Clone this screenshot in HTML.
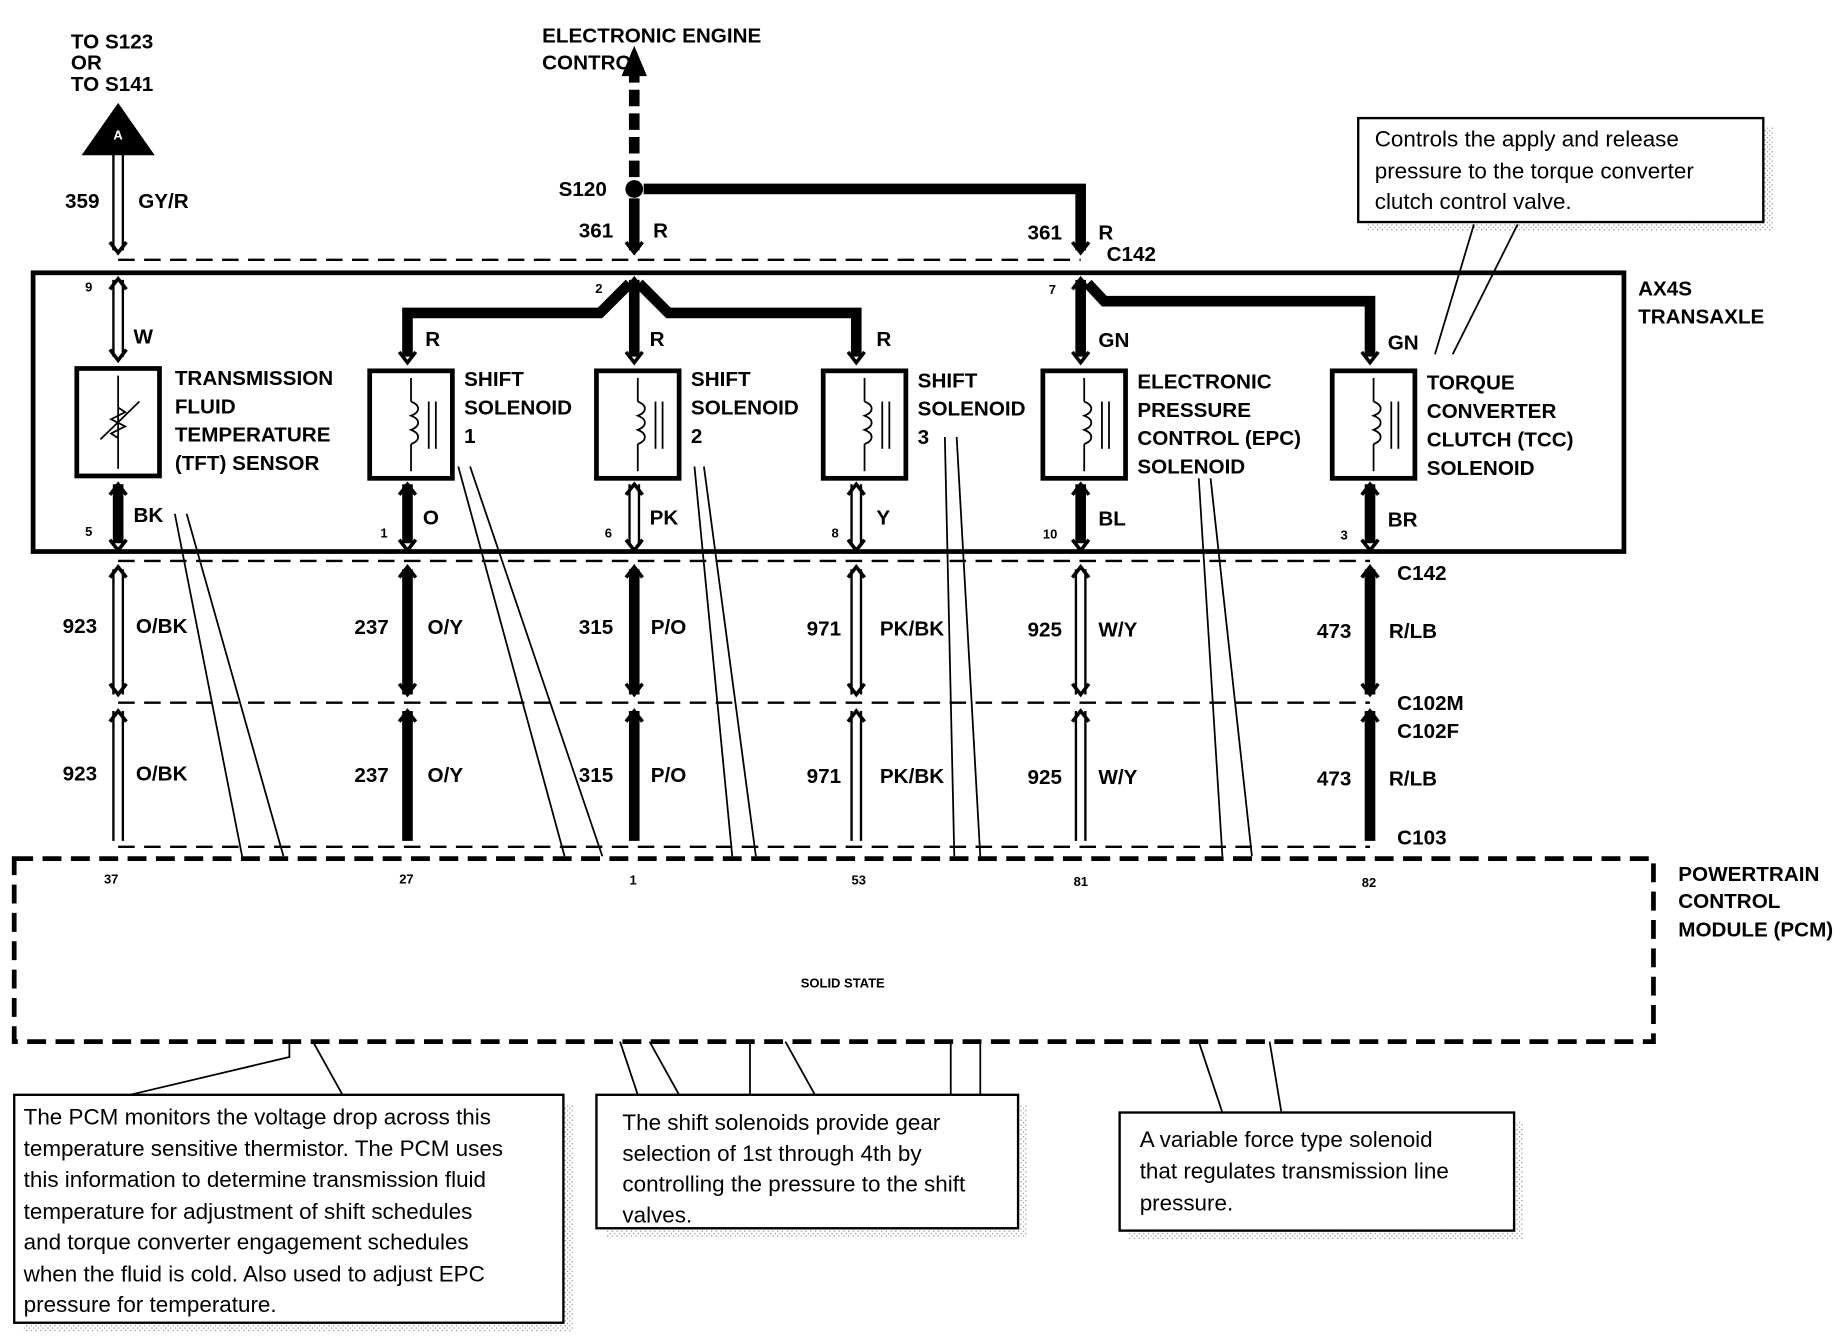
<!DOCTYPE html>
<html><head><meta charset="utf-8"><style>
html,body{margin:0;padding:0;background:#fff;}
svg{display:block}
text{font-family:"Liberation Sans",Arial,sans-serif;fill:#000}
.b{font-weight:bold;font-size:17.5px}
.p{font-weight:bold;font-size:11px}
.c{font-size:19px}
</style></head><body>
<svg width="1846" height="1344" viewBox="0 0 1563 1138" xmlns="http://www.w3.org/2000/svg">
<defs>
<pattern id="h" width="4" height="4" patternUnits="userSpaceOnUse"><rect width="4" height="4" fill="#fff"/><rect width="1" height="1" fill="#888"/><rect x="2" y="2" width="1" height="1" fill="#888"/></pattern>
<path id="dn" d="M-7,-9 L0,0 L7,-9" fill="none" stroke="#000" stroke-width="3"/>
<path id="up" d="M-7,9 L0,0 L7,9" fill="none" stroke="#000" stroke-width="3"/>
</defs>
<g stroke="#000" fill="none">
<polygon points="100,88 70,131 130,131" fill="#000"/>
<text x="96" y="118" style="fill:#fff;font-size:11px;font-weight:bold" stroke="none">A</text>
<g stroke-width="2">
<line x1="96" y1="131" x2="96" y2="212"/><line x1="104" y1="131" x2="104" y2="212"/>
<line x1="96" y1="237" x2="96" y2="302"/><line x1="104" y1="237" x2="104" y2="302"/>
<line x1="533" y1="410" x2="533" y2="460"/><line x1="541" y1="410" x2="541" y2="460"/>
<line x1="721" y1="410" x2="721" y2="460"/><line x1="729" y1="410" x2="729" y2="460"/>
</g>
<g stroke-width="2" stroke-dasharray="14,8">
<line x1="100" y1="220" x2="915" y2="220"/>
<line x1="100" y1="475" x2="1160" y2="475"/>
<line x1="100" y1="595" x2="1160" y2="595"/>
<line x1="100" y1="717" x2="1160" y2="717"/>
</g>
<rect x="28" y="231" width="1347" height="236" stroke-width="4"/>
<line x1="537" y1="150" x2="537" y2="62" stroke-width="9" stroke-dasharray="14,6"/>
<polygon points="537,40 527,64 547,64" fill="#000"/>
<circle cx="537" cy="160" r="7" fill="#000"/>
<g stroke-width="9">
<polyline points="545,160 915,160 915,212"/>
<line x1="537" y1="168" x2="537" y2="212"/>
<line x1="537" y1="237" x2="537" y2="302"/>
<polyline points="345,302 345,265 508,265 533,240"/>
<polyline points="725,302 725,265 566,265 541,240"/>
<line x1="915" y1="237" x2="915" y2="302"/>
<polyline points="921,240 935,255 1160,255 1160,302"/>
<line x1="100" y1="410" x2="100" y2="460"/>
<line x1="345" y1="410" x2="345" y2="460"/>
<line x1="915" y1="410" x2="915" y2="460"/>
<line x1="1160" y1="410" x2="1160" y2="460"/>
<line x1="345" y1="482" x2="345" y2="588"/><line x1="345" y1="602" x2="345" y2="712"/>
<line x1="537" y1="482" x2="537" y2="588"/><line x1="537" y1="602" x2="537" y2="712"/>
<line x1="1160" y1="482" x2="1160" y2="588"/><line x1="1160" y1="602" x2="1160" y2="712"/>
</g>
<g stroke-width="2">
<line x1="96" y1="482" x2="96" y2="588"/><line x1="104" y1="482" x2="104" y2="588"/>
<line x1="96" y1="602" x2="96" y2="712"/><line x1="104" y1="602" x2="104" y2="712"/>
<line x1="721" y1="482" x2="721" y2="588"/><line x1="729" y1="482" x2="729" y2="588"/>
<line x1="721" y1="602" x2="721" y2="712"/><line x1="729" y1="602" x2="729" y2="712"/>
<line x1="911" y1="482" x2="911" y2="588"/><line x1="919" y1="482" x2="919" y2="588"/>
<line x1="911" y1="602" x2="911" y2="712"/><line x1="919" y1="602" x2="919" y2="712"/>
</g>
<!-- wire end chevrons -->
<use href="#dn" x="100" y="214"/><use href="#dn" x="537" y="214"/><use href="#dn" x="915" y="214"/>
<use href="#up" x="100" y="236"/><use href="#up" x="537" y="236"/><use href="#up" x="915" y="236"/>
<use href="#dn" x="100" y="305"/><use href="#dn" x="345" y="307"/><use href="#dn" x="537" y="307"/><use href="#dn" x="725" y="307"/><use href="#dn" x="915" y="307"/><use href="#dn" x="1160" y="307"/>
<use href="#up" x="100" y="410"/><use href="#up" x="345" y="410"/><use href="#up" x="537" y="410"/><use href="#up" x="725" y="410"/><use href="#up" x="915" y="410"/><use href="#up" x="1160" y="410"/>
<g id="row">
<use href="#dn" x="100" y="466"/><use href="#dn" x="345" y="466"/><use href="#dn" x="537" y="466"/><use href="#dn" x="725" y="466"/><use href="#dn" x="915" y="466"/><use href="#dn" x="1160" y="466"/>
<use href="#up" x="100" y="480"/><use href="#up" x="345" y="480"/><use href="#up" x="537" y="480"/><use href="#up" x="725" y="480"/><use href="#up" x="915" y="480"/><use href="#up" x="1160" y="480"/>
</g>
<use href="#row" y="122"/>
<g stroke-width="4">
<rect x="65" y="312" width="70" height="91"/>
<rect x="313" y="314" width="70" height="91"/>
<rect x="505" y="314" width="70" height="91"/>
<rect x="697" y="314" width="70" height="91"/>
<rect x="883" y="314" width="70" height="91"/>
<rect x="1128" y="314" width="70" height="91"/>
</g>
<g stroke-width="1.5">
<line x1="100" y1="318" x2="100" y2="397"/><line x1="85" y1="372" x2="118" y2="340"/>
<path d="M100,345 l6,4 -12,6 12,6 -12,6 6,4"/>
<g id="sol"><line x1="348" y1="320" x2="348" y2="340"/><path d="M348,340 c8,3 8,9 0,12 c8,3 8,9 0,12 c8,3 8,9 0,12"/><line x1="348" y1="376" x2="348" y2="399"/><line x1="363" y1="340" x2="363" y2="380"/><line x1="369" y1="340" x2="369" y2="380"/></g>
<use href="#sol" x="192"/><use href="#sol" x="384"/><use href="#sol" x="570"/><use href="#sol" x="815"/>
</g>
<rect x="12" y="727" width="1388" height="155" stroke-width="4" stroke-dasharray="16,8"/>
<rect x="1158" y="108" width="343" height="88" fill="url(#h)" stroke="none"/>
<rect x="1150" y="100" width="343" height="88" fill="#fff" stroke-width="2"/>
<rect x="20" y="935" width="465" height="193" fill="url(#h)" stroke="none"/>
<rect x="12" y="927" width="465" height="193" fill="#fff" stroke-width="2"/>
<rect x="513" y="935" width="357" height="113" fill="url(#h)" stroke="none"/>
<rect x="505" y="927" width="357" height="113" fill="#fff" stroke-width="2"/>
<rect x="956" y="950" width="334" height="100" fill="url(#h)" stroke="none"/>
<rect x="948" y="942" width="334" height="100" fill="#fff" stroke-width="2"/>
<g stroke-width="1.5">
<polyline points="148,435 205,725"/><polyline points="158,435 240,725"/>
<polyline points="388,395 478,725"/><polyline points="398,395 510,725"/>
<polyline points="588,395 620,725"/><polyline points="596,395 640,725"/>
<polyline points="800,370 808,725"/><polyline points="810,370 830,725"/>
<polyline points="1015,405 1035,725"/><polyline points="1025,405 1060,725"/>
<polyline points="1248,190 1215,300"/><polyline points="1285,190 1230,300"/>
<polyline points="245,882 245,895 110,927"/><polyline points="265,882 290,927"/>
<polyline points="525,882 540,927"/><polyline points="550,882 575,927"/><polyline points="635,882 635,927"/><polyline points="665,882 690,927"/><polyline points="805,882 805,927"/><polyline points="830,882 830,927"/>
<polyline points="1015,882 1035,942"/><polyline points="1075,882 1085,942"/>
</g>
</g>
<g class="b">
<text x="60" y="41">TO S123</text><text x="60" y="59">OR</text><text x="60" y="77">TO S141</text>
<text x="459" y="36">ELECTRONIC ENGINE</text><text x="459" y="59">CONTROL</text>
<text x="55" y="176">359</text><text x="117" y="176">GY/R</text>
<text x="473" y="166">S120</text>
<text x="490" y="201">361</text><text x="553" y="201">R</text>
<text x="870" y="203">361</text><text x="930" y="203">R</text>
<text x="937" y="221">C142</text>
<text x="1387" y="250">AX4S</text><text x="1387" y="274">TRANSAXLE</text>
<text x="113" y="291">W</text><text x="360" y="293">R</text><text x="550" y="293">R</text><text x="742" y="293">R</text>
<text x="930" y="294">GN</text><text x="1175" y="296">GN</text>
<text x="148" y="326">TRANSMISSION</text><text x="148" y="350">FLUID</text><text x="148" y="374">TEMPERATURE</text><text x="148" y="398">(TFT) SENSOR</text>
<text x="393" y="327">SHIFT</text><text x="393" y="351">SOLENOID</text><text x="393" y="375">1</text>
<text x="585" y="327">SHIFT</text><text x="585" y="351">SOLENOID</text><text x="585" y="375">2</text>
<text x="777" y="328">SHIFT</text><text x="777" y="352">SOLENOID</text><text x="777" y="376">3</text>
<text x="963" y="329">ELECTRONIC</text><text x="963" y="353">PRESSURE</text><text x="963" y="377">CONTROL (EPC)</text><text x="963" y="401">SOLENOID</text>
<text x="1208" y="330">TORQUE</text><text x="1208" y="354">CONVERTER</text><text x="1208" y="378">CLUTCH (TCC)</text><text x="1208" y="402">SOLENOID</text>
<text x="113" y="442">BK</text><text x="358" y="444">O</text><text x="550" y="444">PK</text><text x="742" y="444">Y</text><text x="930" y="445">BL</text><text x="1175" y="446">BR</text>
<text x="1183" y="491">C142</text>
<text x="53" y="536">923</text><text x="115" y="536">O/BK</text>
<text x="300" y="537">237</text><text x="362" y="537">O/Y</text>
<text x="490" y="537">315</text><text x="551" y="537">P/O</text>
<text x="683" y="538">971</text><text x="745" y="538">PK/BK</text>
<text x="870" y="539">925</text><text x="930" y="539">W/Y</text>
<text x="1115" y="540">473</text><text x="1176" y="540">R/LB</text>
<text x="1183" y="601">C102M</text><text x="1183" y="625">C102F</text>
<text x="53" y="661">923</text><text x="115" y="661">O/BK</text>
<text x="300" y="662">237</text><text x="362" y="662">O/Y</text>
<text x="490" y="662">315</text><text x="551" y="662">P/O</text>
<text x="683" y="663">971</text><text x="745" y="663">PK/BK</text>
<text x="870" y="664">925</text><text x="930" y="664">W/Y</text>
<text x="1115" y="665">473</text><text x="1176" y="665">R/LB</text>
<text x="1183" y="715">C103</text>
<text x="1421" y="746">POWERTRAIN</text><text x="1421" y="769">CONTROL</text><text x="1421" y="793">MODULE (PCM)</text>
</g>
<g class="p">
<text x="72" y="247">9</text><text x="504" y="248">2</text><text x="888" y="249">7</text>
<text x="72" y="454">5</text><text x="322" y="455">1</text><text x="512" y="455">6</text><text x="704" y="455">8</text><text x="883" y="456">10</text><text x="1135" y="457">3</text>
<text x="88" y="748">37</text><text x="338" y="748">27</text><text x="533" y="749">1</text><text x="721" y="749">53</text><text x="909" y="750">81</text><text x="1153" y="751">82</text>
<text x="678" y="836">SOLID STATE</text>
</g>
<g class="c">
<text x="1164" y="124">Controls the apply and release</text><text x="1164" y="151">pressure to the torque converter</text><text x="1164" y="177">clutch control valve.</text>
<text x="20" y="952">The PCM monitors the voltage drop across this</text>
<text x="20" y="979">temperature sensitive thermistor. The PCM uses</text>
<text x="20" y="1005">this information to determine transmission fluid</text>
<text x="20" y="1032">temperature for adjustment of shift schedules</text>
<text x="20" y="1058">and torque converter engagement schedules</text>
<text x="20" y="1085">when the fluid is cold. Also used to adjust EPC</text>
<text x="20" y="1111">pressure for temperature.</text>
<text x="527" y="957">The shift solenoids provide gear</text><text x="527" y="983">selection of 1st through 4th by</text><text x="527" y="1009">controlling the pressure to the shift</text><text x="527" y="1035">valves.</text>
<text x="965" y="971">A variable force type solenoid</text><text x="965" y="998">that regulates transmission line</text><text x="965" y="1025">pressure.</text>
</g>
</svg>
</body></html>
